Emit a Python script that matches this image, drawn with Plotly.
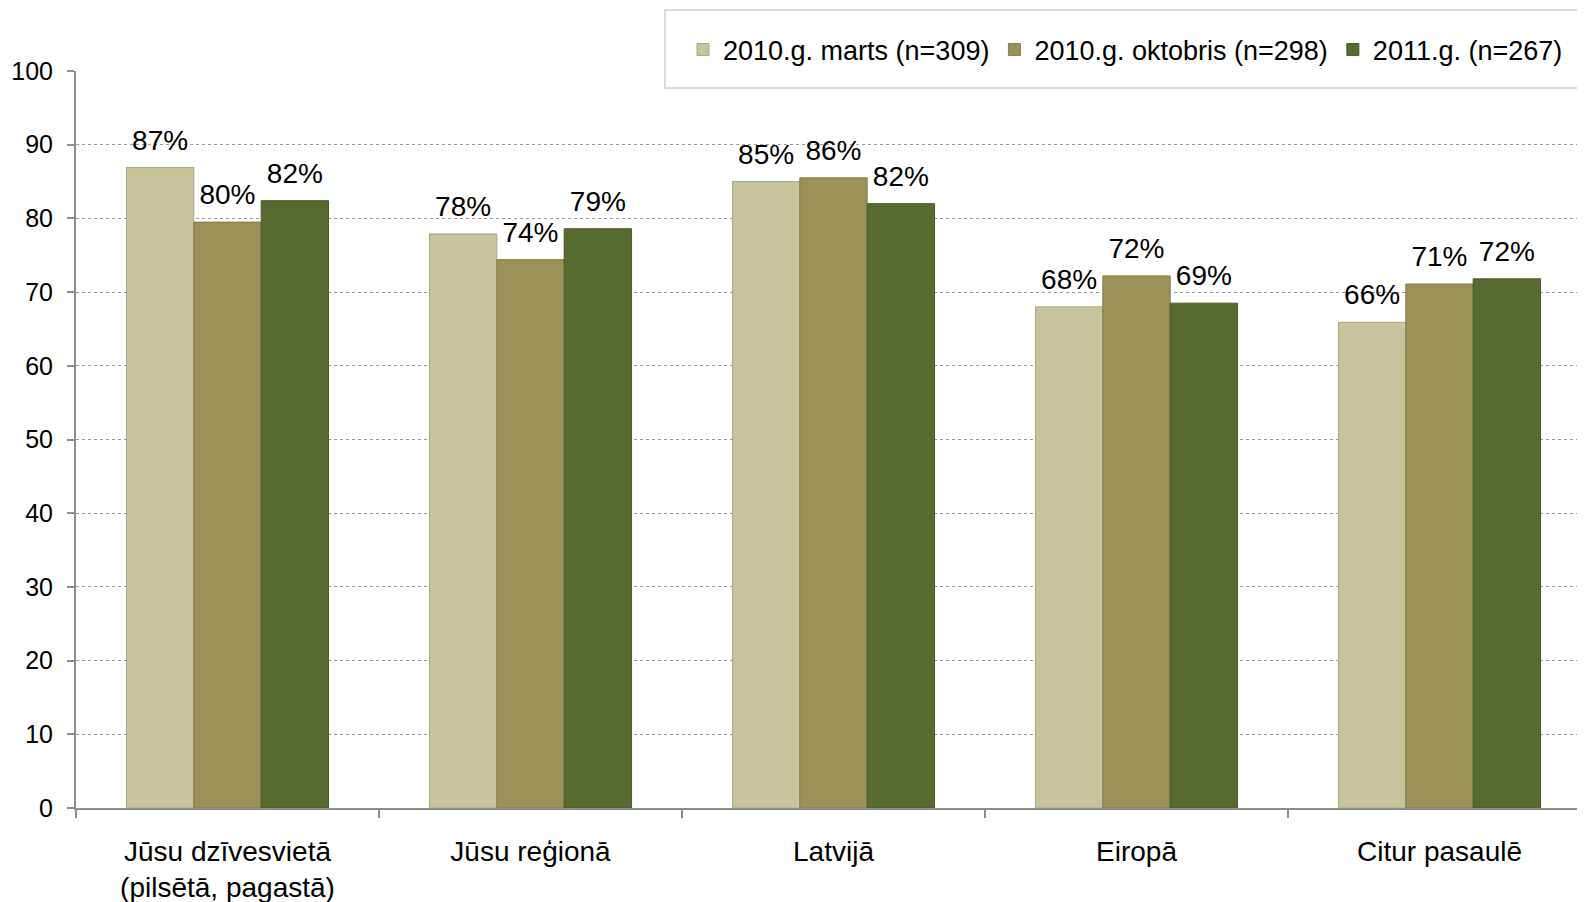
import plotly.graph_objects as go

categories = ["Jūsu dzīvesvietā<br>(pilsētā, pagastā)", "Jūsu reģionā", "Latvijā", "Eiropā", "Citur pasaulē"]
series_names = ["2010.g. marts (n=309)", "2010.g. oktobris (n=298)", "2011.g. (n=267)"]
marts_2010 = [86.9, 77.9, 85.0, 68.0, 65.9]
oktobris_2010 = [79.5, 74.4, 85.5, 72.2, 71.1]
g_2011 = [82.4, 78.6, 82.0, 68.5, 71.8]
labels_marts = ["87%", "78%", "85%", "68%", "66%"]
labels_okt = ["80%", "74%", "86%", "72%", "71%"]
labels_2011 = ["82%", "79%", "82%", "69%", "72%"]
y_ticks = list(range(0, 101, 10))

colors = ["#C7C39C", "#9A9058", "#576A30"]
edge = ["#A9A586", "#857C4B", "#4A5A28"]
series = [marts_2010, oktobris_2010, g_2011]
labels = [labels_marts, labels_okt, labels_2011]

FONT = "Arial, Liberation Sans, sans-serif"

fig = go.Figure()
for i in range(3):
    fig.add_trace(go.Bar(
        x=categories, y=series[i], name=series_names[i],
        marker=dict(color=colors[i], line=dict(color=edge[i], width=1)),
        offsetgroup=str(i), hoverinfo="skip",
    ))
for i in range(3):
    fig.add_trace(go.Scatter(
        x=categories, y=series[i], mode="markers+text", text=labels[i],
        textposition="top center", textfont=dict(family=FONT, size=28, color="#000000"),
        marker=dict(size=16, opacity=0), offsetgroup=str(i),
        showlegend=False, hoverinfo="skip", cliponaxis=False,
    ))

# page body has an 8px margin; figure fills the rest of the 1585x902 window
OFF = 8
W, H = 1585 - OFF, 902 - OFF
L, T = 76 - OFF, 71 - OFF
B = H - (808 - OFF)
plot_w = W - L
plot_h = H - T - B
cat_w = 303
fig.update_layout(
    width=W, height=H,
    margin=dict(l=L, r=0, t=T, b=B, autoexpand=False),
    paper_bgcolor="white", plot_bgcolor="white",
    barmode="group", bargap=0.333, bargroupgap=0,
    scattermode="group", scattergap=0.333,
    font=dict(family=FONT, color="#000000"),
    showlegend=True,
    legend=dict(orientation="h", xref="container", yref="container",
                x=(683 - OFF) / W, xanchor="left", y=1 - (50 - OFF) / H, yanchor="middle",
                font=dict(family=FONT, size=27, color="#000000"),
                bgcolor="rgba(0,0,0,0)", itemwidth=30, traceorder="normal"),
    shapes=[dict(type="rect", xref="paper", yref="paper",
                 x0=(665 - 76) / plot_w, x1=1.02,
                 y0=(808 - 88) / plot_h, y1=(808 - 10) / plot_h,
                 line=dict(color="#D0D0D0", width=1.5), fillcolor="white", layer="below")],
)
fig.update_xaxes(
    range=[-0.5, -0.5 + plot_w / cat_w], showline=True, linecolor="#8C8C8C", linewidth=2,
    ticks="outside", tickson="boundaries", ticklen=8, tickcolor="#8C8C8C", tickwidth=2,
    showgrid=False, tickfont=dict(family=FONT, size=28, color="#000000"),
    ticklabelstandoff=17, automargin=False,
)
fig.update_yaxes(
    range=[0, 100], tickvals=y_ticks, showline=True, linecolor="#8C8C8C", linewidth=2,
    ticks="outside", ticklen=7, tickcolor="#8C8C8C", tickwidth=2,
    showgrid=True, gridcolor="#9A9A9A", griddash="dot", gridwidth=1, zeroline=False,
    tickfont=dict(family=FONT, size=25, color="#000000"), ticklabelstandoff=9, automargin=False,
)
fig.write_html("out.html")
